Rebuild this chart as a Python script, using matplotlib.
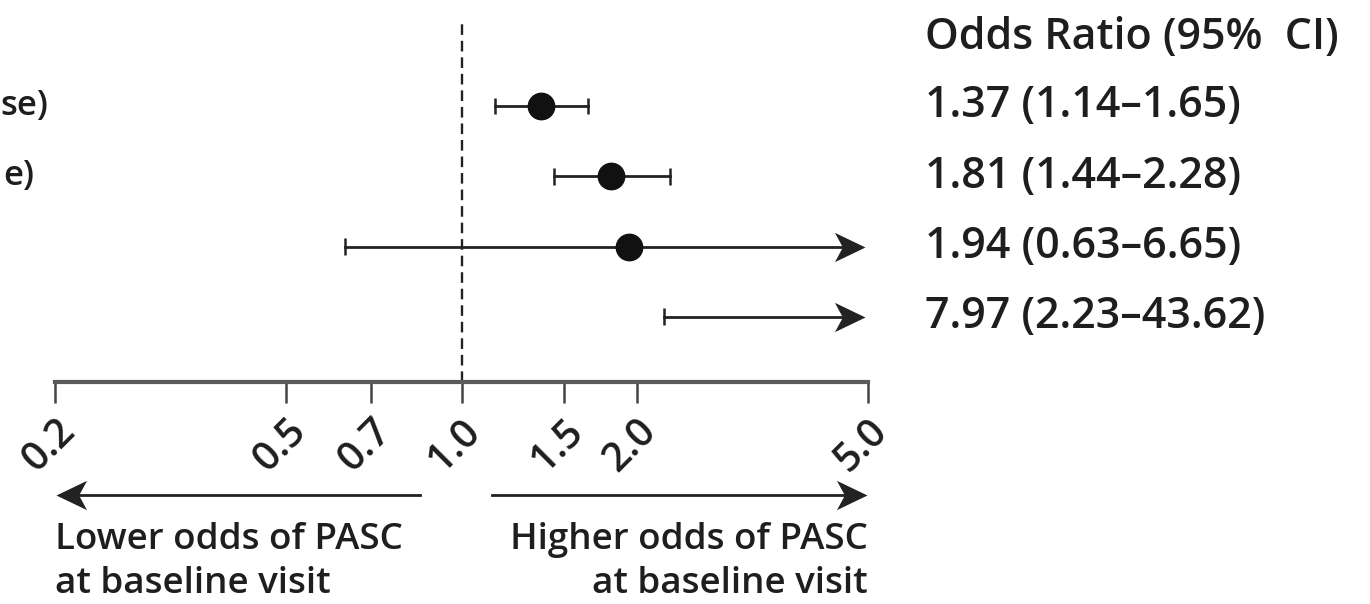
import matplotlib
matplotlib.use("Agg")
import matplotlib.pyplot as plt
from matplotlib.path import Path
from matplotlib.transforms import ScaledTranslation
import numpy as np

# ---- data ----
left_labels = ["se)", "e)", "", ""]
odds = [1.37, 1.81, 1.94, 7.97]
ci_low = [1.14, 1.44, 0.63, 2.23]
ci_high = [1.65, 2.28, 6.65, 43.62]
or_text = ["1.37 (1.14\u20131.65)", "1.81 (1.44\u20132.28)",
           "1.94 (0.63\u20136.65)", "7.97 (2.23\u201343.62)"]
header = "Odds Ratio (95%  CI)"
ticks = [0.2, 0.5, 0.7, 1.0, 1.5, 2.0, 5.0]
tick_labels = ["0.2", "0.5", "0.7", "1.0", "1.5", "2.0", "5.0"]
xmin, xmax = 0.2, 5.0
lower_text = "Lower odds of PASC\nat baseline visit"
higher_text = "Higher odds of PASC\nat baseline visit"

plt.rcParams['font.family'] = ['Open Sans', 'DejaVu Sans']
W, H = 1370, 604
fig = plt.figure(figsize=(W / 100, H / 100), dpi=100)
TXT = '#1e1e1e'
FS_R = 31
FS_B = 26.5
FS_T = 29
FS_L = 25
FW = 'semibold'

def fx(px):
    return px / W

def fy(py):
    return 1 - py / H

ax_left, ax_right, ax_top, ax_bot = 55, 868, 20, 382
row_px0, row_step = 106, 70.3
ytop = 1 - (row_px0 - ax_top) / row_step
ybot = 1 + (ax_bot - row_px0) / row_step
ax = fig.add_axes([fx(ax_left), fy(ax_bot), fx(ax_right - ax_left), (ax_bot - ax_top) / H])
ax.set_xscale('log')
ax.set_xlim(xmin, xmax)
ax.set_ylim(ybot, ytop)
rows = np.arange(1, len(odds) + 1)

def row_to_py(y):
    return ax_top + (y - ytop) * row_step

for s in ['top', 'left', 'right']:
    ax.spines[s].set_visible(False)
ax.spines['bottom'].set_linewidth(3)
ax.spines['bottom'].set_color('#5a5a5a')
ax.set_yticks([])
ax.xaxis.set_minor_locator(matplotlib.ticker.NullLocator())
ax.set_xticks(ticks)
ax.set_xticklabels(tick_labels, rotation=45, fontsize=FS_T, color=TXT, fontweight=FW)
ax.tick_params(axis='x', direction='out', length=15, width=1.8, color='#444444', pad=6)
shift = ScaledTranslation(-6 / 100, 0, fig.dpi_scale_trans)
for lab in ax.get_xticklabels():
    lab.set_transform(lab.get_transform() + shift)

ax.axvline(1.0, color='#222222', lw=1.7, ls=(0, (4.5, 2.5)), zorder=1)

# stealth arrowhead marker (tip at the data point)
head = Path([(0, 0), (-1, 0.48), (-0.74, 0), (-1, -0.48), (0, 0)],
            [Path.MOVETO, Path.LINETO, Path.LINETO, Path.LINETO, Path.CLOSEPOLY])
head_left = Path([(0, 0), (1, 0.48), (0.74, 0), (1, -0.48), (0, 0)],
                 [Path.MOVETO, Path.LINETO, Path.LINETO, Path.LINETO, Path.CLOSEPOLY])
HEAD_MS = 44
LC = '#222222'
tip = xmax * 0.99

for y, o, lo, hi in zip(rows, odds, ci_low, ci_high):
    ax.plot([lo, lo], [y - 0.12, y + 0.12], color=LC, lw=1.8, solid_capstyle='butt')
    if hi <= xmax:
        ax.plot([lo, hi], [y, y], color=LC, lw=2.0)
        ax.plot([hi, hi], [y - 0.12, y + 0.12], color=LC, lw=1.8, solid_capstyle='butt')
    else:
        ax.plot([lo, tip * 0.96], [y, y], color=LC, lw=2.0, clip_on=False)
        ax.plot([tip], [y], marker=head, ms=HEAD_MS, color=LC, mec=LC, mew=0,
                ls='none', clip_on=False)
    if o <= xmax:
        ax.plot([o], [y], 'o', color='#111111', ms=19, zorder=5)

# direction arrows below the axis
trans = ax.get_xaxis_transform()
ya = (ax_bot - 495) / (ax_bot - ax_top)
ax.plot([0.85, xmin * 1.04], [ya, ya], color=LC, lw=2.0, transform=trans, clip_on=False)
ax.plot([xmin * 1.005], [ya], marker=head_left, ms=HEAD_MS, color=LC, mew=0,
        transform=trans, clip_on=False)
ax.plot([1.13, xmax * 0.96], [ya, ya], color=LC, lw=2.0, transform=trans, clip_on=False)
ax.plot([xmax * 0.995], [ya], marker=head, ms=HEAD_MS, color=LC, mew=0,
        transform=trans, clip_on=False)

fig.text(fx(55), fy(522), lower_text, ha='left', va='top', fontsize=FS_B,
         color=TXT, fontweight=FW, linespacing=1.28)
fig.text(fx(868), fy(522), higher_text, ha='right', va='top', fontsize=FS_B,
         color=TXT, fontweight=FW, linespacing=1.28, multialignment='right')

# right column
fig.text(fx(925), fy(38), header, ha='left', va='center', fontsize=FS_R,
         color=TXT, fontweight=FW)
for y, t in zip(rows, or_text):
    fig.text(fx(925), fy(row_to_py(y)), t, ha='left', va='center',
             fontsize=FS_R, color=TXT, fontweight=FW)

# truncated left labels (as visible at the figure's left edge in the reference)
label_right = {"se)": 48, "e)": 34}
for y, lab in zip(rows, left_labels):
    if lab:
        fig.text(fx(label_right[lab]), fy(row_to_py(y)), lab, ha='right', va='center',
                 fontsize=FS_L, color=TXT, fontweight=FW)

fig.savefig('out.png', dpi=100, facecolor='white')
